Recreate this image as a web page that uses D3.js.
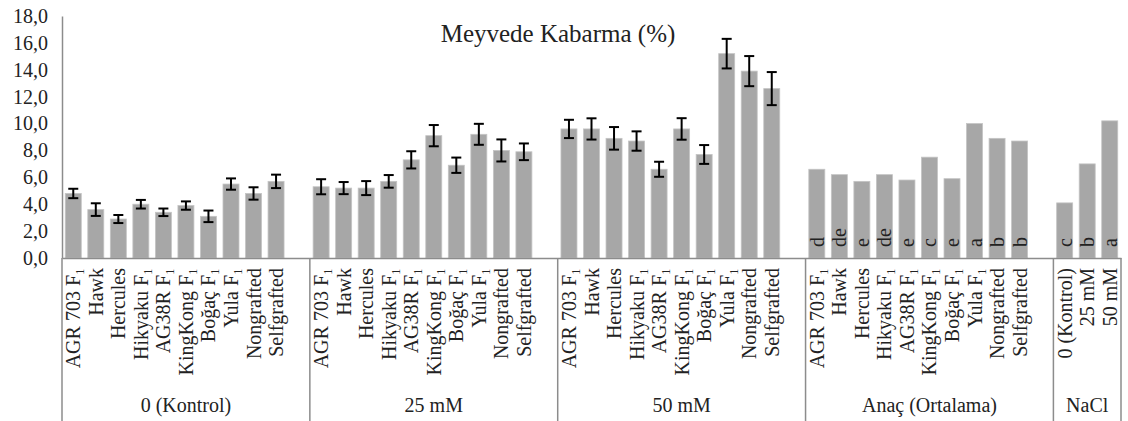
<!DOCTYPE html>
<html>
<head>
<meta charset="utf-8">
<script src="https://cdn.jsdelivr.net/npm/d3@7"></script>
<style>
  body { margin: 0; background: #fff; }
  svg text { font-family: "Liberation Serif", "DejaVu Serif", "Noto Serif", "Times New Roman", serif !important; fill: #222; }
</style>
</head>
<body>
<script>
// anaçlar (rootstocks)
const rootstocks = ["AGR 703 F₁", "Hawk", "Hercules", "Hikyaku F₁", "AG38R F₁",
  "KingKong F₁", "Boğaç F₁", "Yula F₁", "Nongrafted", "Selfgrafted"];
const groupNames = ["0 (Kontrol)", "25 mM", "50 mM", "Anaç (Ortalama)", "NaCl"];
const naclLevels = ["0 (Kontrol)", "25 mM", "50 mM"];

// değerler (%)
const kontrolVals = [4.8, 3.6, 2.9, 4.0, 3.4, 3.9, 3.1, 5.5, 4.8, 5.7];
const kontrolErr  = [0.35, 0.47, 0.3, 0.32, 0.28, 0.31, 0.43, 0.42, 0.46, 0.5];
const mM25Vals = [5.3, 5.2, 5.2, 5.7, 7.3, 9.1, 6.9, 9.2, 8.0, 7.9];
const mM25Err  = [0.56, 0.45, 0.52, 0.47, 0.64, 0.79, 0.57, 0.78, 0.82, 0.62];
const mM50Vals = [9.6, 9.6, 8.9, 8.7, 6.6, 9.6, 7.7, 15.2, 13.9, 12.6];
const mM50Err  = [0.68, 0.79, 0.84, 0.72, 0.56, 0.8, 0.7, 1.1, 1.12, 1.23];
const anacVals = [6.6, 6.2, 5.7, 6.2, 5.8, 7.5, 5.9, 10.0, 8.9, 8.7];
const anacLetters = ["d", "de", "e", "de", "e", "c", "e", "a", "b", "b"];
const naclVals = [4.1, 7.0, 10.2];
const naclLetters = ["c", "b", "a"];
const yTicks = [0, 2, 4, 6, 8, 10, 12, 14, 16, 18];

const W = 1128, H = 421;
const mLeft = 62, mRight = 1121, base = 258, mTop = 16;

const groups = [
  { name: groupNames[0], cats: rootstocks, vals: kontrolVals, err: kontrolErr },
  { name: groupNames[1], cats: rootstocks, vals: mM25Vals, err: mM25Err },
  { name: groupNames[2], cats: rootstocks, vals: mM50Vals, err: mM50Err },
  { name: groupNames[3], cats: rootstocks, vals: anacVals, letters: anacLetters },
  { name: groupNames[4], cats: naclLevels, vals: naclVals, letters: naclLetters }
];

// her grup sonunda bir boş kategori (son grup hariç)
const keys = [];
const bars = [];
groups.forEach((g, gi) => {
  g.cats.forEach((c, i) => {
    const key = gi + "|" + i;
    keys.push(key);
    bars.push({ key, label: c, value: g.vals[i], err: g.err ? g.err[i] : null,
      letter: g.letters ? g.letters[i] : null });
  });
  if (gi < groups.length - 1) keys.push(gi + "|gap");
});
const labelOf = {};
bars.forEach(b => labelOf[b.key] = b.label);

const pad = 0.29;
const x = d3.scaleBand().domain(keys).range([mLeft, mRight]).paddingInner(pad).paddingOuter(pad / 2);
const y = d3.scaleLinear().domain([0, 18]).range([base, mTop]);
const step = x.step();

const locale = d3.formatLocale({ decimal: ",", thousands: ".", grouping: [3], currency: ["", ""] });
const fmt = locale.format(".1f");

const svg = d3.select("body").append("svg").attr("width", W).attr("height", H)
  .attr("font-family", "Liberation Serif");

// başlık
svg.append("text").attr("x", 558).attr("y", 42).attr("text-anchor", "middle")
  .style("font-size", "25px").text("Meyvede Kabarma (%)");

// y ekseni
const yAxis = svg.append("g").attr("transform", `translate(${mLeft},0)`)
  .call(d3.axisLeft(y).tickValues(yTicks).tickFormat(fmt).tickSize(0).tickPadding(14));
yAxis.attr("font-family", null).attr("font-size", null);
yAxis.select(".domain").attr("stroke", "#8c8c8c").attr("stroke-width", 1.5);
yAxis.selectAll("text").style("font-size", "20px").attr("fill", "#222");

// çubuklar
svg.append("g").selectAll("rect").data(bars).join("rect")
  .attr("x", d => x(d.key))
  .attr("y", d => y(d.value))
  .attr("width", x.bandwidth())
  .attr("height", d => base - y(d.value))
  .attr("fill", "#a7a7a7")
  .attr("stroke", "#c4c4c4")
  .attr("stroke-width", 0.8);

// hata çubukları
const eb = svg.append("g").attr("stroke", "#000").attr("stroke-width", 2)
  .selectAll("g").data(bars.filter(d => d.err != null)).join("g");
eb.append("line")
  .attr("x1", d => x(d.key) + x.bandwidth() / 2).attr("x2", d => x(d.key) + x.bandwidth() / 2)
  .attr("y1", d => y(d.value + d.err)).attr("y2", d => y(d.value - d.err));
eb.append("line")
  .attr("x1", d => x(d.key) + x.bandwidth() / 2 - 5).attr("x2", d => x(d.key) + x.bandwidth() / 2 + 5)
  .attr("y1", d => y(d.value + d.err)).attr("y2", d => y(d.value + d.err));
eb.append("line")
  .attr("x1", d => x(d.key) + x.bandwidth() / 2 - 5).attr("x2", d => x(d.key) + x.bandwidth() / 2 + 5)
  .attr("y1", d => y(d.value - d.err)).attr("y2", d => y(d.value - d.err));

// harfler
svg.append("g").selectAll("text").data(bars.filter(d => d.letter)).join("text")
  .attr("transform", d => `translate(${x(d.key) + x.bandwidth() / 2},${base - 11}) rotate(-90)`)
  .attr("dy", "0.35em")
  .style("font-size", "20px")
  .attr("fill", "#333")
  .text(d => d.letter);

// x ekseni
const xAxis = svg.append("g").attr("transform", `translate(0,${base})`)
  .call(d3.axisBottom(x).tickFormat(k => labelOf[k] || "").tickSize(0).tickSizeOuter(0));
xAxis.attr("font-family", null).attr("font-size", null);
xAxis.select(".domain").attr("stroke", "#8c8c8c").attr("stroke-width", 1.5);
xAxis.selectAll("text")
  .style("font-size", "20px").attr("fill", "#222")
  .attr("text-anchor", "end")
  .attr("transform", "rotate(-90)")
  .attr("x", -10).attr("y", 0).attr("dy", "0.35em");

// grup ayırıcıları ve grup adları
let bounds = [mLeft];
groups.forEach((g, gi) => {
  const lastKey = gi < groups.length - 1 ? gi + "|gap" : gi + "|" + (g.cats.length - 1);
  bounds.push(x(lastKey) + x.bandwidth() + step * pad / 2);
});
svg.append("g").selectAll("line").data(bounds).join("line")
  .attr("x1", d => d).attr("x2", d => d)
  .attr("y1", base).attr("y2", H)
  .attr("stroke", "#8c8c8c").attr("stroke-width", 1.5);

svg.append("g").selectAll("text").data(groups).join("text")
  .attr("x", (d, i) => (bounds[i] + bounds[i + 1]) / 2)
  .attr("y", 412)
  .attr("text-anchor", "middle")
  .style("font-size", "20px")
  .text(d => d.name);
</script>
</body>
</html>
